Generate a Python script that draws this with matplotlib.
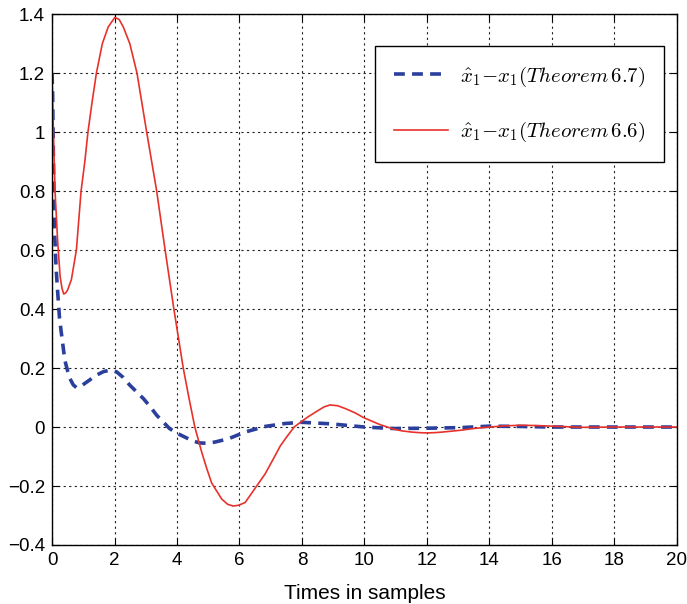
import matplotlib
matplotlib.use('Agg')
from matplotlib import pyplot as plt

plt.rcParams['font.family'] = ['Liberation Sans', 'DejaVu Sans']
plt.rcParams['mathtext.fontset'] = 'cm'

# estimation error, Theorem 6.7 (dashed)
t_67 = [0, 0.02, 0.045, 0.077, 0.13, 0.18, 0.24, 0.3, 0.41, 0.5, 0.57, 0.68, 0.78, 0.9,
        1.05, 1.25, 1.42, 1.65, 1.85, 2.07, 2.28, 2.49, 2.7, 2.92, 3.15, 3.35, 3.55,
        3.76, 4.0, 4.25, 4.5, 4.73, 4.97, 5.21, 5.64, 6.18, 6.82, 7.46, 8.0,
        8.9, 10.0, 10.93, 12.0, 13.07, 14.0, 15.0, 16.0, 18.0, 20.0]
e_67 = [1.2, 1.13, 0.904, 0.677, 0.541, 0.46, 0.37, 0.318, 0.227, 0.19, 0.165, 0.143, 0.134, 0.136,
        0.148, 0.163, 0.176, 0.188, 0.193, 0.187, 0.168, 0.142, 0.12, 0.097, 0.068, 0.04, 0.018,
        -0.005, -0.021, -0.034, -0.047, -0.054, -0.055, -0.051, -0.04, -0.017, 0.002, 0.012, 0.016,
        0.011, 0.0, -0.005, -0.004, -0.002, 0.003, 0.002, 0.0, 0.0, 0.0]

# estimation error, Theorem 6.6 (solid)
t_66 = [0, 0.045, 0.096, 0.18, 0.26, 0.32, 0.375, 0.44, 0.5, 0.62, 0.78, 0.93, 1.05, 1.15,
        1.28, 1.42, 1.61, 1.8, 2.01, 2.15, 2.28, 2.49, 2.72, 2.81, 3.03, 3.35, 3.62, 3.9,
        4.2, 4.38, 4.57, 4.79, 4.95, 5.11, 5.43, 5.62, 5.8, 5.98, 6.18, 6.55, 6.82, 7.14,
        7.3, 7.5, 7.75, 8.0, 8.2, 8.5, 8.7, 8.9, 9.15, 9.4, 9.7, 9.97, 10.5, 10.93, 11.2,
        11.5, 11.75, 12.0, 12.25, 12.5, 13.07, 13.5, 14.0, 14.5, 15.0, 15.5, 16.0, 17.0,
        18.0, 19.0, 20.0]
e_66 = [1.2, 1.0, 0.802, 0.632, 0.51, 0.47, 0.451, 0.455, 0.465, 0.5, 0.6, 0.8, 0.9, 1.0,
        1.1, 1.2, 1.3, 1.357, 1.389, 1.382, 1.357, 1.3, 1.2, 1.142, 1.0, 0.8, 0.6, 0.4,
        0.2, 0.1, 0.0, -0.085, -0.14, -0.19, -0.244, -0.262, -0.268, -0.265, -0.256, -0.2, -0.159, -0.097,
        -0.065, -0.035, 0.0, 0.02, 0.035, 0.055, 0.068, 0.075, 0.072, 0.062, 0.048, 0.032, 0.008, -0.007, -0.013,
        -0.017, -0.019, -0.02, -0.019, -0.017, -0.011, -0.005, 0.0, 0.004, 0.006, 0.005, 0.003, -0.001,
        0.0, 0.0, 0.0]

fig = plt.figure(figsize=(6.87, 6.04), dpi=100)
ax = fig.add_axes([0.0757, 0.0977, 0.9097, 0.8788])

ax.plot(t_67, e_67, color='#2b3f9c', lw=2.6, ls=(0, (3.0, 2.0)),
        label=r'$\hat{x}_1{-}x_1(Theorem\,6.7)$')
ax.plot(t_66, e_66, color='#e8312b', lw=1.2,
        label=r'$\hat{x}_1{-}x_1(Theorem\,6.6)$')

ax.set_xlim(0, 20)
ax.set_ylim(-0.4, 1.4)
ax.set_xticks(range(0, 21, 2))
ax.set_yticks([-0.4, -0.2, 0, 0.2, 0.4, 0.6, 0.8, 1, 1.2, 1.4])
ax.set_yticklabels(['\u22120.4', '\u22120.2', '0', '0.2', '0.4', '0.6', '0.8', '1', '1.2', '1.4'])
ax.tick_params(direction='in', top=True, right=True, labelsize=13.5, length=5, pad=5)
ax.grid(True, color='#222222', ls=(0, (2, 3)), lw=0.8)
for s in ax.spines.values():
    s.set_linewidth(1.0)

ax.set_xlabel('Times in samples', fontsize=15, labelpad=11)

leg = ax.legend(loc='upper right', bbox_to_anchor=(0.979, 0.940), borderaxespad=0,
                fontsize=15, fancybox=False, framealpha=1, edgecolor='black',
                labelspacing=1.5, handlelength=2.6, borderpad=0.88, handletextpad=0.6)
leg.get_frame().set_linewidth(1.0)

plt.savefig('out.png', dpi=100)
